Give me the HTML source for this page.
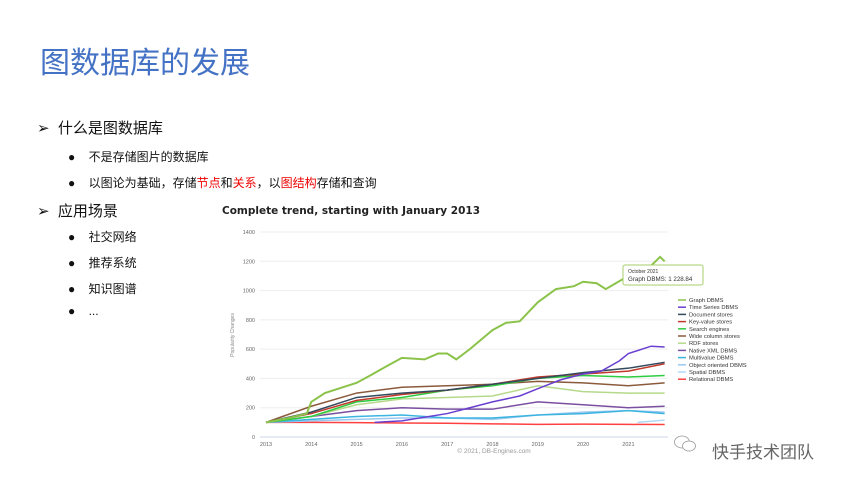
<!DOCTYPE html>
<html><head><meta charset="utf-8">
<style>
body{margin:0;width:866px;height:487px;background:#fff;overflow:hidden;font-family:"Liberation Sans","Noto Sans CJK SC",sans-serif;position:relative}
.t{position:absolute;white-space:nowrap}
.red{color:#e00}
</style></head><body>
<div class="t" style="left:40px;top:44px;font-size:30px;color:#4472c4;line-height:40px">图数据库的发展</div>
<div class="t" style="left:37px;top:117px;font-size:15px;color:#111">➢&nbsp;&nbsp;什么是图数据库</div>
<div class="t" style="left:68px;top:148px;font-size:12px;color:#111">●&nbsp;&nbsp;&nbsp;&nbsp;不是存储图片的数据库</div>
<div class="t" style="left:68px;top:174px;font-size:12px;color:#111">●&nbsp;&nbsp;&nbsp;&nbsp;以图论为基础，存储<span class="red">节点</span>和<span class="red">关系</span>，以<span class="red">图结构</span>存储和查询</div>
<div class="t" style="left:37px;top:200px;font-size:15px;color:#111">➢&nbsp;&nbsp;应用场景</div>
<div class="t" style="left:68px;top:228px;font-size:12px;color:#111">●&nbsp;&nbsp;&nbsp;&nbsp;社交网络</div>
<div class="t" style="left:68px;top:254px;font-size:12px;color:#111">●&nbsp;&nbsp;&nbsp;&nbsp;推荐系统</div>
<div class="t" style="left:68px;top:280px;font-size:12px;color:#111">●&nbsp;&nbsp;&nbsp;&nbsp;知识图谱</div>
<div class="t" style="left:68px;top:304px;font-size:12px;color:#111">●&nbsp;&nbsp;&nbsp;&nbsp;...</div>

<svg id="chart" width="866" height="487" style="position:absolute;left:0;top:0" xmlns="http://www.w3.org/2000/svg">
<text x="222" y="214" font-size="10.5" font-weight="bold" fill="#222" font-family="DejaVu Sans, sans-serif">Complete trend, starting with January 2013</text>
<text transform="translate(234,335) rotate(-90)" font-size="5" fill="#888" text-anchor="middle">Popularity Changes</text>
<text x="494" y="453" font-size="6.5" fill="#999" text-anchor="middle">© 2021, DB-Engines.com</text>
<g id="grid"></g><g id="lines"></g><g id="legend"></g>
<g>
<rect x="623" y="265" width="80" height="20" rx="2" fill="#fff" stroke="#a5cf6a" stroke-width="1"/>
<text x="628" y="273" font-size="5" fill="#333">October 2021</text>
<text x="628" y="281" font-size="6.2" fill="#333">Graph DBMS: 1 228.84</text>
</g>
</svg>
<div class="t" style="left:673px;top:434px;width:20px;height:20px">
<svg width="24" height="20"><ellipse cx="9" cy="8" rx="7.5" ry="6" fill="none" stroke="#999" stroke-width="0.8"/><ellipse cx="16" cy="12" rx="6.5" ry="5" fill="#fff" stroke="#999" stroke-width="0.8"/></svg></div>
<div class="t" style="left:712px;top:438px;font-size:17px;color:#666">快手技术团队</div>
<script>
const years=[2013,2014,2015,2016,2017,2018,2019,2020,2021];
const yTicks=[0,200,400,600,800,1000,1200,1400];
const names=["Graph DBMS","Time Series DBMS","Document stores","Key-value stores","Search engines","Wide column stores","RDF stores","Native XML DBMS","Multivalue DBMS","Object oriented DBMS","Spatial DBMS","Relational DBMS"];
const colors=["#8bc34a","#6a3fd0","#34495e","#c0392b","#2ecc40","#8b5a3c","#b5d98a","#7a4fa0","#3cb4e0","#9cc8f0","#b0d8f8","#ff4040"];
const tGraph=[2013,2013.5,2013.9,2014,2014.3,2014.7,2015,2015.3,2015.7,2016,2016.5,2016.8,2017,2017.2,2017.5,2018,2018.3,2018.6,2019,2019.4,2019.8,2020,2020.3,2020.5,2021,2021.5,2021.7,2021.8];
const vGraph=[100,130,160,240,300,340,370,420,490,540,530,570,570,530,600,730,780,790,920,1010,1030,1060,1050,1010,1100,1170,1230,1200];
const tTS=[2015.4,2016,2017,2017.5,2018,2018.6,2019,2019.5,2020,2020.4,2020.8,2021,2021.5,2021.8];
const vTS=[100,110,160,200,240,280,330,390,430,450,520,570,620,615];
const tStd=[2013,2014,2015,2016,2017,2018,2019,2020,2021,2021.8];
const vDoc=[100,170,270,300,320,360,400,440,470,510];
const vKV=[100,160,250,290,320,360,410,430,450,500];
const vSearch=[100,140,240,270,320,350,400,420,410,420];
const vWide=[100,210,300,340,350,360,380,370,350,370];
const vRDF=[100,140,220,260,270,280,350,310,300,300];
const vXML=[100,140,180,200,190,190,240,220,200,210];
const vMulti=[100,120,140,150,130,130,150,160,180,160];
const vObj=[100,110,120,130,130,120,150,170,180,170];
const tSpatial=[2021.2,2021.8];
const vSpatial=[100,115];
const vRel=[100,100,98,96,94,90,86,88,86,85];
const series=[[tGraph,vGraph],[tTS,vTS],[tStd,vDoc],[tStd,vKV],[tStd,vSearch],[tStd,vWide],[tStd,vRDF],[tStd,vXML],[tStd,vMulti],[tStd,vObj],[tSpatial,vSpatial],[tStd,vRel]];
const NS="http://www.w3.org/2000/svg";
const X=t=>266+(t-2013)*45.3;
const Y=v=>437-v*(205/1400);
const grid=document.getElementById('grid');
yTicks.forEach(v=>{
 const l=document.createElementNS(NS,'line');
 
 
 l.setAttribute('x1',260);l.setAttribute('x2',668);l.setAttribute('y1',Y(v));l.setAttribute('y2',Y(v));
 l.setAttribute('stroke',v===0?'#ccd6eb':'#eee');l.setAttribute('stroke-width',1);grid.appendChild(l);
 const t=document.createElementNS(NS,'text');
 
 
 t.setAttribute('x',255);t.setAttribute('y',Y(v)+2);t.setAttribute('font-size',5.5);t.setAttribute('fill','#666');t.setAttribute('text-anchor','end');
 t.textContent=v;grid.appendChild(t);
});
years.forEach(y=>{
 const t=document.createElementNS(NS,'text');
 
 
 t.setAttribute('x',X(y));t.setAttribute('y',446);t.setAttribute('font-size',5.5);t.setAttribute('fill','#666');t.setAttribute('text-anchor','middle');
 t.textContent=y;grid.appendChild(t);
});
const lines=document.getElementById('lines');
for(let i=series.length-1;i>=0;i--){
 const [ts,vs]=series[i];
 const p=document.createElementNS(NS,'polyline');
 
 
 p.setAttribute('points',ts.map((t,j)=>X(t)+','+Y(vs[j])).join(' '));
 p.setAttribute('fill','none');p.setAttribute('stroke',colors[i]);p.setAttribute('stroke-width',i===0?2:1.5);
 lines.appendChild(p);
}
const lg=document.getElementById('legend');
names.forEach((n,i)=>{
 const y=300+i*7.2;
 const l=document.createElementNS(NS,'line');
 
 
 l.setAttribute('x1',678);l.setAttribute('x2',686);l.setAttribute('y1',y);l.setAttribute('y2',y);
 l.setAttribute('stroke',colors[i]);l.setAttribute('stroke-width',1.5);lg.appendChild(l);
 const t=document.createElementNS(NS,'text');
 
 
 t.setAttribute('x',689);t.setAttribute('y',y+2);t.setAttribute('font-size',5.8);t.setAttribute('fill','#333');
 t.textContent=n;lg.appendChild(t);
});
</script>
</body></html>
